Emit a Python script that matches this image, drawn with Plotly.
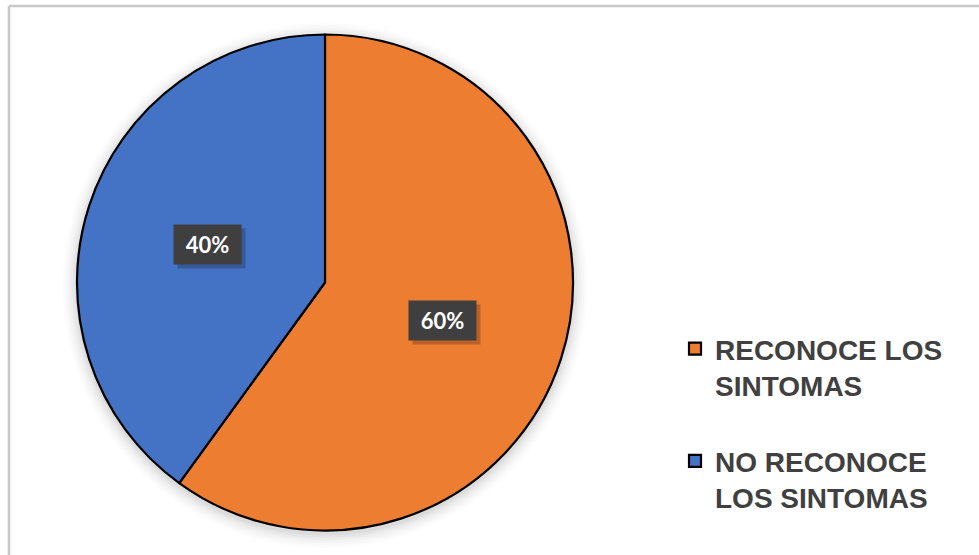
import math
import plotly.graph_objects as go

# Survey result: share of respondents who recognise the symptoms
categories = ["RECONOCE LOS SINTOMAS", "NO RECONOCE LOS SINTOMAS"]
legend_labels = ["RECONOCE LOS<br>SINTOMAS<br> ", "NO RECONOCE<br>LOS SINTOMAS"]
values = [60, 40]
colors = ["#ED7D31", "#4472C4"]

W, H = 979, 555
CX, CY, R = 325, 282.5, 248  # pie centre / radius in pixels

fig = go.Figure()
fig.add_trace(go.Pie(
    labels=legend_labels,
    values=values,
    sort=False,
    direction="clockwise",
    rotation=0,
    marker=dict(colors=colors, line=dict(color="#000000", width=2.2)),
    textinfo="none",
    hoverinfo="label+percent",
    domain=dict(x=[(CX - R) / W, (CX + R) / W],
                y=[1 - (CY + R) / H, 1 - (CY - R) / H]),
))

# soft glow behind the pie
shapes = []
for i, a in enumerate([0.035, 0.03, 0.025, 0.02, 0.015, 0.01]):
    rr = R + 2 + 2.5 * i
    shapes.append(dict(
        type="circle", xref="paper", yref="paper", layer="below",
        x0=(CX - rr) / W, x1=(CX + rr) / W,
        y0=1 - (CY + 3 + rr) / H, y1=1 - (CY + 3 - rr) / H,
        fillcolor=f"rgba(0,0,0,{a})", line=dict(width=0),
    ))

# chart-area frame (top and left edges visible)
shapes.append(dict(type="line", xref="paper", yref="paper",
                   x0=9 / W, x1=1.02, y0=1 - 6 / H, y1=1 - 6 / H,
                   line=dict(color="#C8C8C8", width=2.5)))
shapes.append(dict(type="line", xref="paper", yref="paper",
                   x0=9 / W, x1=9 / W, y0=1 - 6 / H, y1=-0.02,
                   line=dict(color="#C8C8C8", width=2.5)))

# percentage labels in dark boxes, placed halfway out along each slice's mid-angle
annotations = []
total = sum(values)
cum = 0
for v in values:
    mid = math.radians((cum + v / 2) / total * 360)
    cum += v
    px = CX + 0.5 * R * math.sin(mid)
    py = CY - 0.5 * R * math.cos(mid)
    pct = f"{round(v / total * 100)}%"
    common = dict(x=px / W, y=1 - py / H, xref="paper", yref="paper",
                  xanchor="center", yanchor="middle",
                  showarrow=False, width=65, height=37)
    # drop shadow
    annotations.append(dict(common, text=" ",
                            bgcolor="rgba(0,0,0,0.22)", xshift=4, yshift=-4))
    annotations.append(dict(common, text=f"<b>{pct}</b>", bgcolor="#3F3F3F",
                            font=dict(family="Lato", size=22, color="#FFFFFF")))

fig.update_layout(
    width=W, height=H,
    margin=dict(l=0, r=0, t=0, b=0, autoexpand=False),
    paper_bgcolor="#FFFFFF",
    plot_bgcolor="#FFFFFF",
    shapes=shapes,
    annotations=annotations,
    showlegend=True,
    legend=dict(
        x=675 / W, y=1 - 324 / H, xanchor="left", yanchor="top",
        valign="top",
        font=dict(family="Liberation Sans, Arial", size=28, color="#404040", weight="bold"),
        bgcolor="rgba(0,0,0,0)",
        itemclick=False, itemdoubleclick=False,
    ),
)

fig.write_html("out.html")
